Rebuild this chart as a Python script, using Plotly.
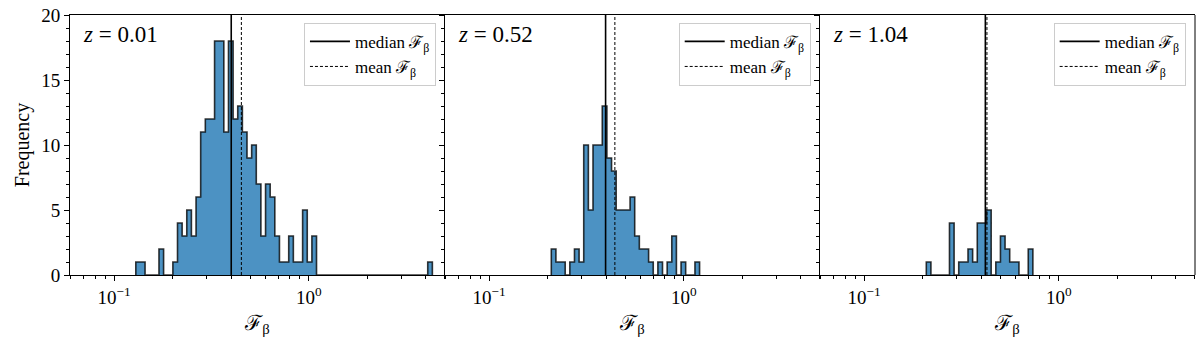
import numpy as np
import plotly.graph_objects as go
from plotly.subplots import make_subplots

# redshift labels
redshifts = ['0.01', '0.52', '1.04']

# log-spaced histogram bins: first edge of each panel and width in dex
first_edge = [0.1294, 0.2089, 0.2089]
bin_dex = 0.0238

counts_z001 = [1, 1, 0, 0, 0, 2, 0, 0,
               1, 4, 3, 5, 3, 6, 11, 12, 12, 18, 18, 11, 18, 12, 13, 11, 9, 10,
               7, 3, 7, 6, 3, 1, 1, 3, 1, 1, 5, 1, 3,
               0, 0, 0, 0, 0, 0, 0, 0, 0, 0, 0, 0, 0, 0, 0, 0, 0, 0, 0, 0, 0, 0, 0, 0,
               1]
counts_z052 = [2, 1, 1, 0, 1, 2, 1, 10, 5, 10, 10, 13, 9, 8, 5, 5, 5, 6, 3, 2, 2,
               1, 0, 1, 0, 1, 3, 0, 1, 0, 0, 1]
counts_z104 = [1, 0, 0, 0, 0, 4, 0, 1, 1, 2, 1, 4, 4, 5, 0, 1, 3, 2, 1, 1, 0, 0, 2]
all_counts = [counts_z001, counts_z052, counts_z104]

median_F = [0.400, 0.397, 0.420]
mean_F = [0.451, 0.443, 0.428]

x_major = [0.1, 1.0]
x_major_text = ['10<sup>\u22121</sup>', '10<sup>0</sup>']
x_minor = [0.06, 0.07, 0.08, 0.09, 0.2, 0.3, 0.4, 0.5, 0.6, 0.7, 0.8, 0.9, 2, 3, 4, 5]

FONT = 'Liberation Serif'
FILL = 'rgba(31,119,180,0.8)'
EDGE = 'rgba(0,0,0,0.78)'
FB = '\u2131<sub>\u03b2</sub>'

fig = make_subplots(rows=1, cols=3, shared_yaxes=True, horizontal_spacing=0)

legend_right = [0.3253, 0.6584, 0.9917]

for i in range(3):
    col = i + 1
    counts = all_counts[i]
    n = len(counts)
    edges = 10 ** (np.log10(first_edge[i]) + bin_dex * np.arange(n + 1))
    xs = [edges[0]] + list(edges[:-1]) + [edges[-1]]
    ys = [0] + counts + [0]
    fig.add_trace(go.Scatter(x=xs, y=ys, mode='lines', line_shape='hv',
                             fill='tozeroy', fillcolor=FILL,
                             line=dict(color=EDGE, width=1.6),
                             showlegend=False, hoverinfo='skip'), row=1, col=col)
    leg = 'legend' if i == 0 else 'legend%d' % col
    fig.add_trace(go.Scatter(x=[median_F[i], median_F[i]], y=[0, 20], mode='lines',
                             line=dict(color='black', width=1.6),
                             name='median ' + FB, legend=leg), row=1, col=col)
    fig.add_trace(go.Scatter(x=[mean_F[i], mean_F[i]], y=[0, 20], mode='lines',
                             line=dict(color='black', width=1, dash='3px,2px'),
                             name='mean ' + FB, legend=leg), row=1, col=col)

    xa = 'x' if i == 0 else 'x%d' % col
    fig.add_annotation(text='<i>z</i> = ' + redshifts[i], xref=xa + ' domain', yref='y domain',
                       x=0.03, y=0.925, xanchor='left', yanchor='middle', showarrow=False,
                       font=dict(family=FONT, size=23, color='black'))

    fig.update_xaxes(type='log', range=[-1.226, 0.70], tickvals=x_major, ticktext=x_major_text,
                     ticks='outside', ticklen=5, tickcolor='black', tickwidth=1,
                     minor=dict(tickvals=x_minor, ticks='outside', ticklen=3, tickcolor='black'),
                     showline=True, linecolor='black', linewidth=1, mirror=True,
                     showgrid=False, zeroline=False,
                     title=dict(text=FB, font=dict(family=FONT, size=21), standoff=8),
                     tickfont=dict(family=FONT, size=19, color='black'),
                     row=1, col=col)
    fig.update_yaxes(range=[0, 20], dtick=5, ticks='outside', ticklen=5, tickcolor='black',
                     minor=dict(dtick=1, ticks='outside', ticklen=3, tickcolor='black'),
                     showline=True, linecolor='black', linewidth=1, mirror=False,
                     showgrid=False, zeroline=False,
                     tickfont=dict(family=FONT, size=19, color='black'),
                     row=1, col=col)

fig.update_yaxes(title=dict(text='Frequency', font=dict(family=FONT, size=20), standoff=6),
                 row=1, col=1)

leg_style = dict(xref='paper', yref='paper', xanchor='right', yanchor='top', y=0.97,
                 bgcolor='rgba(255,255,255,0.8)', bordercolor='#cccccc', borderwidth=1,
                 itemwidth=40,
                 font=dict(family=FONT, size=17, color='black'))
fig.update_layout(
    legend=dict(x=legend_right[0], **leg_style),
    legend2=dict(x=legend_right[1], **leg_style),
    legend3=dict(x=legend_right[2], **leg_style),
)

# right spine on the last panel
fig.add_shape(type='line', xref='x3 domain', yref='y3 domain', x0=1, x1=1, y0=0, y1=1,
              line=dict(color='black', width=1))

fig.update_layout(width=1200, height=343, margin=dict(l=70, r=5, t=13, b=68),
                  plot_bgcolor='white', paper_bgcolor='white',
                  font=dict(family=FONT, color='black'))

fig.write_html('out.html', config={'displayModeBar': False},
               post_script="document.body.style.margin='0';")
